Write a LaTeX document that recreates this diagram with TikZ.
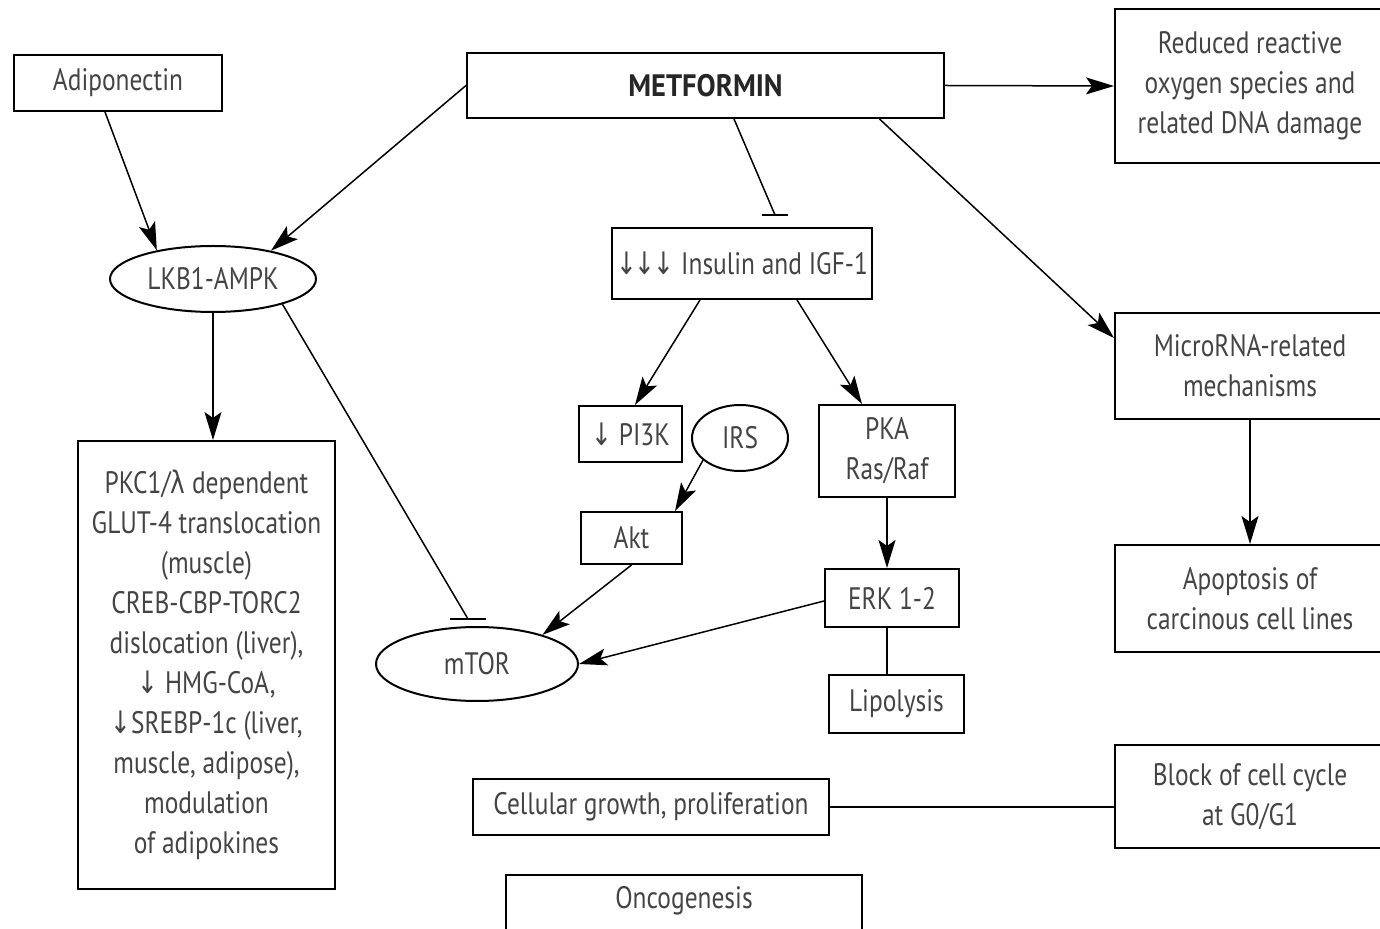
\documentclass[tikz,border=0pt]{standalone}
\usepackage{fontspec}
\setmainfont{PT Sans}[FakeStretch=0.82]
\newfontfamily\symfont{DejaVu Sans}[FakeStretch=0.8]
\newfontfamily\titlefont{PT Sans}[FakeStretch=0.92]
\usetikzlibrary{positioning,arrows.meta,shapes.geometric}

\definecolor{ink}{HTML}{444444}
\tikzset{
  box/.style={draw,line width=1pt,inner sep=0pt,align=center,text=ink,
    font=\fontsize{15.5pt}{20pt}\selectfont},
  oval/.style={box,ellipse},
  arr/.style={line width=0.75pt,-{Stealth[length=14pt,width=8.5pt,inset=3pt]}},
  con/.style={line width=0.75pt},
}
\newcommand{\dn}{{\symfont ↓}}

\begin{document}
\begin{tikzpicture}[x=0.5pt,y=-0.5pt]
  \clip (0,0) rectangle (1380,929);

  % top row
  \node[box,minimum width=104pt,minimum height=28pt] (adipo) at (118,83) {Adiponectin};
  \node[box,minimum width=238.5pt,minimum height=32.5pt,text=black!85,font=\fontsize{15.5pt}{20pt}\titlefont\bfseries] (metf) at (705.5,85.5) {METFORMIN};
  \node[box,minimum width=135pt,minimum height=77pt] (ros) at (1250,86) {Reduced reactive\\oxygen species and\\related DNA damage};

  % left branch
  \node[oval,minimum width=103pt,minimum height=33pt] (lkb) at (213,279) {LKB1-AMPK};
  \node[box,minimum width=128.5pt,minimum height=224pt] (pkc) at (206.5,665)
    {PKC1/{\symfont λ} dependent\\GLUT-4 translocation\\(muscle)\\CREB-CBP-TORC2\\dislocation (liver),\\\dn\ HMG-CoA,\\\dn SREBP-1c (liver,\\muscle, adipose),\\modulation\\of adipokines};

  % insulin branch
  \node[box,minimum width=130pt,minimum height=35.5pt] (ins) at (742,263.5) {\dn\kern-1pt\dn\kern-1pt\dn\ Insulin and IGF-1};
  \node[box,minimum width=51.5pt,minimum height=28pt] (pik) at (630.5,434) {\dn\ PI3K};
  \node[oval,minimum width=48pt,minimum height=33pt] (irs) at (740,438) {IRS};
  \node[box,minimum width=68pt,minimum height=46pt] (pka) at (887,451) {PKA\\Ras/Raf};
  \node[box,minimum width=50.5pt,minimum height=26pt] (akt) at (631.5,538) {Akt};
  \node[box,minimum width=67pt,minimum height=29pt] (erk) at (892,598) {ERK 1-2};
  \node[box,minimum width=67.5pt,minimum height=29pt] (lipo) at (896.5,704) {Lipolysis};
  \node[oval,minimum width=101pt,minimum height=37pt] (mtor) at (477,664) {mTOR};

  % bottom
  \node[box,minimum width=178pt,minimum height=28pt] (grow) at (651,807) {Cellular growth, proliferation};
  \node[box,minimum width=178pt,minimum height=32pt,text depth=10pt] (onco) at (684,907) {Oncogenesis};

  % right column
  \node[box,minimum width=135pt,minimum height=53pt] (mirna) at (1250,366) {MicroRNA-related\\mechanisms};
  \node[box,minimum width=135pt,minimum height=53.5pt] (apop) at (1250,598.5) {Apoptosis of\\carcinous cell lines};
  \node[box,minimum width=135pt,minimum height=51.5pt] (block) at (1250,796.5) {Block of cell cycle\\at G0/G1};

  % arrows
  \draw[arr] ([xshift=-6.5pt]adipo.south) -- (lkb.153);
  \draw[arr] (metf.west) -- (lkb.26);
  \draw[arr] (metf.east) -- (ros.west);
  \draw[arr] ([xshift=87pt]metf.south) -- ([yshift=14pt]mirna.west);
  \draw[arr] (lkb.south) -- (lkb.south |- pkc.north);
  \draw[arr] ([xshift=-21pt]ins.south) -- ([xshift=2.25pt]pik.north);
  \draw[arr] ([xshift=27.5pt]ins.south) -- ([xshift=-12.5pt]pka.north);
  \draw[arr] (irs.211) -- ([xshift=21.75pt]akt.north);
  \draw[arr] (akt.south) -- (mtor.24);
  \draw[arr] ([yshift=-1.5pt]erk.west) -- (mtor.east);
  \draw[arr] (pka.south) -- (pka.south |- erk.north);
  \draw[arr] (mirna.south) -- (apop.north);

  % inhibitions
  \coordinate (insbar) at ([xshift=16.5pt,yshift=6pt]ins.north);
  \draw[con] ([xshift=14.25pt]metf.south) -- (insbar);
  \draw[line width=1.2pt] ([xshift=-6.5pt]insbar) -- ([xshift=6.5pt]insbar);
  \coordinate (mtorbar) at ([xshift=-4.5pt,yshift=3.5pt]mtor.north);
  \draw[con] (lkb.-20) -- (mtorbar);
  \draw[line width=1.2pt] ([xshift=-9pt]mtorbar) -- ([xshift=9pt]mtorbar);

  % plain links
  \draw[con] (erk.south -| pka.south) -- (pka.south |- lipo.north);
  \draw[line width=1pt] (grow.east) -- (grow.east -| block.west);
\end{tikzpicture}
\end{document}
